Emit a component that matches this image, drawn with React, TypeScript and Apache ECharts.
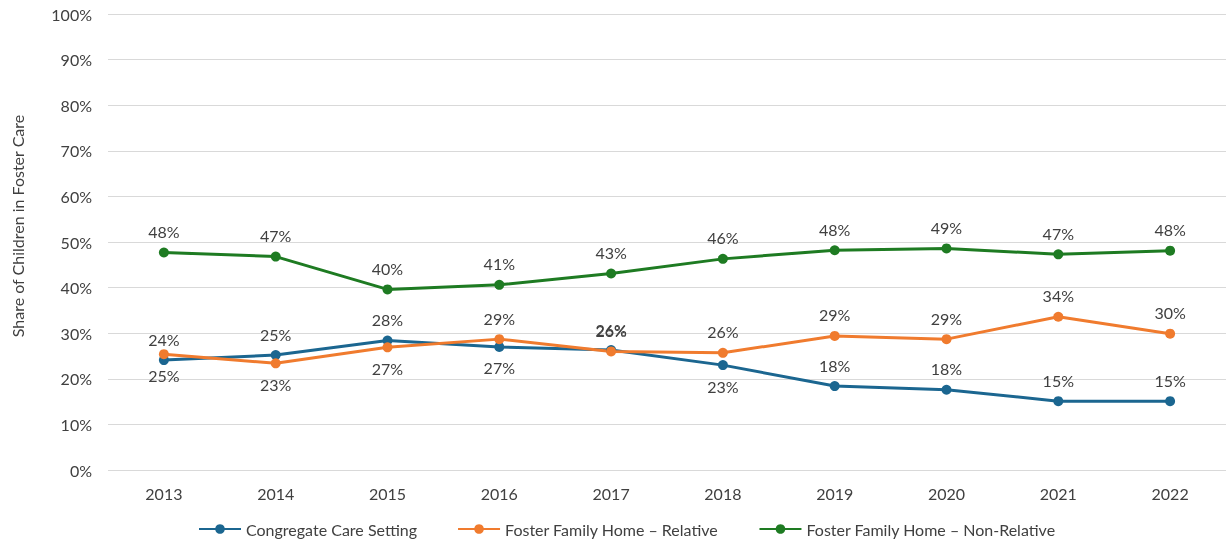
import React, { useEffect, useRef } from "react";
import * as echarts from "echarts";

const years = ["2013", "2014", "2015", "2016", "2017", "2018", "2019", "2020", "2021", "2022"];
const congregate = [24.1, 25.2, 28.4, 27.0, 26.3, 23.0, 18.4, 17.6, 15.1, 15.1];
const relative = [25.4, 23.4, 26.9, 28.7, 26.0, 25.7, 29.4, 28.7, 33.6, 29.9];
const nonRelative = [47.7, 46.8, 39.6, 40.6, 43.1, 46.3, 48.2, 48.6, 47.3, 48.1];
const congregatePos = ["top", "top", "top", "bottom", "top", "bottom", "top", "top", "top", "top"];
const relativePos = ["bottom", "bottom", "bottom", "top", "top", "top", "top", "top", "top", "top"];
const nonRelativePos = ["top", "top", "top", "top", "top", "top", "top", "top", "top", "top"];
const yTicks = [0, 10, 20, 30, 40, 50, 60, 70, 80, 90, 100];

const FONT = "Lato, 'Open Sans', sans-serif";
const TEXT = "#404040";

export default function App() {
  const ref = useRef<HTMLDivElement>(null);
  useEffect(() => {
    if (!ref.current) return;
    const chart = echarts.init(ref.current, undefined, { renderer: "svg" });
    const mk = (name: string, color: string, data: number[], pos: string[]) => ({
      name,
      type: "line",
      data: data.map((v, i) => ({
        value: v,
        label: { position: pos[i] },
      })),
      symbol: "circle",
      symbolSize: 10,
      lineStyle: { width: 3, color },
      itemStyle: { color },
      label: {
        show: true,
        distance: 8,
        fontFamily: FONT,
        fontSize: 16,
        color: TEXT,
        formatter: (p: any) => Math.round(p.value) + "%",
      },
      z: 3,
    });
    chart.setOption({
      animation: false,
      textStyle: { fontFamily: FONT },
      grid: { left: 108, right: 2, top: 14, bottom: 72, containLabel: false },
      graphic: [
        {
          type: "text",
          x: 17,
          y: 226,
          rotation: Math.PI / 2,
          style: {
            text: "Share of Children in Foster Care",
            fontFamily: FONT,
            fontSize: 16,
            fill: TEXT,
            align: "center",
            verticalAlign: "middle",
          },
        },
      ],
      legend: {
        top: 519,
        left: 198,
        padding: 0,
        itemWidth: 42,
        itemHeight: 12,
        itemGap: 40,
        textStyle: { fontFamily: FONT, fontSize: 16, color: TEXT, lineHeight: 20 },
        data: [
          "Congregate Care Setting",
          "Foster Family Home \u2013 Relative",
          "Foster Family Home \u2013 Non-Relative",
        ],
      },
      xAxis: {
        type: "category",
        data: years,
        boundaryGap: true,
        axisLine: { show: false },
        axisTick: { show: false },
        axisLabel: { fontFamily: FONT, fontSize: 16, color: TEXT, margin: 15 },
      },
      yAxis: {
        type: "value",
        min: yTicks[0],
        max: yTicks[yTicks.length - 1],
        interval: 10,
        axisLine: { show: false },
        axisTick: { show: false },
        axisLabel: {
          fontFamily: FONT,
          fontSize: 16,
          color: TEXT,
          margin: 16,
          formatter: (v: number) => v + "%",
        },
        splitLine: { lineStyle: { color: "#d9d9d9", width: 1 } },
      },
      series: [
        mk("Congregate Care Setting", "#1B6690", congregate, congregatePos),
        mk("Foster Family Home \u2013 Relative", "#F07B2E", relative, relativePos),
        mk("Foster Family Home \u2013 Non-Relative", "#1E7B22", nonRelative, nonRelativePos),
      ],
    });
    return () => chart.dispose();
  }, []);
  return (
    <div style={{ position: "fixed", left: 0, top: 0, width: 1228, height: 542 }}>
      <div ref={ref} style={{ width: 1228, height: 542 }} />
    </div>
  );
}
